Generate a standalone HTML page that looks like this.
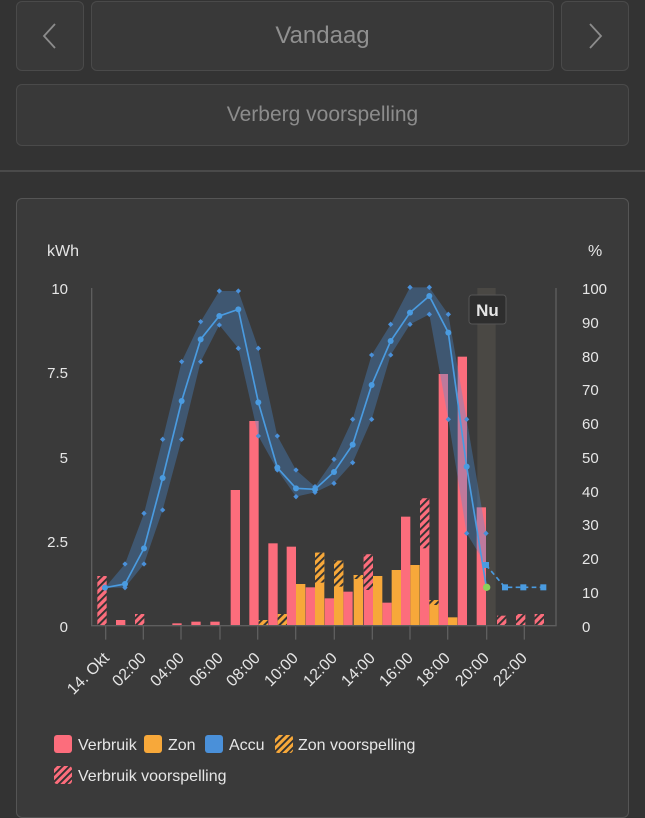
<!DOCTYPE html>
<html><head><meta charset="utf-8"><style>
body{margin:0;width:645px;height:800px;background:#333333;font-family:"Liberation Sans",sans-serif;overflow:hidden;position:relative}
.b{position:absolute;background:#393939;border:1.5px solid #4a4a4a;border-radius:6px;box-sizing:border-box;color:#8c8c8c;display:flex;align-items:center;justify-content:center}
</style></head><body>
<div class="b" style="left:16px;top:1px;width:68px;height:70px;font-size:30px">
<svg width="20" height="30"><polyline points="15,3 4,15 15,27" fill="none" stroke="#8c8c8c" stroke-width="1.8"/></svg></div>
<div class="b" style="left:91px;top:1px;width:463px;height:70px;font-size:24px;color:#909090">Vandaag</div>
<div class="b" style="left:561px;top:1px;width:68px;height:70px">
<svg width="20" height="30"><polyline points="5,3 16,15 5,27" fill="none" stroke="#8c8c8c" stroke-width="1.8"/></svg></div>
<div class="b" style="left:16px;top:84px;width:613px;height:62px;font-size:21px">Verberg voorspelling</div>
<div style="position:absolute;left:0;top:170px;width:645px;height:1.5px;background:#4a4a4a"></div>
<div style="position:absolute;left:16px;top:198px;width:613px;height:620px;background:#3a3a3a;border:1.5px solid #555;border-radius:6px;box-sizing:border-box"></div>
<svg width="645" height="800" style="position:absolute;left:0;top:0" font-family="Liberation Sans, sans-serif">
<defs>
<pattern id="hp" patternUnits="userSpaceOnUse" width="16" height="16" patternTransform="rotate(45)"><rect width="16" height="16" fill="#fc6d7c"/><rect width="6" height="16" fill="#333"/></pattern>
<pattern id="ho" patternUnits="userSpaceOnUse" width="16" height="16" patternTransform="rotate(45)"><rect width="16" height="16" fill="#f7a83a"/><rect width="6" height="16" fill="#333"/></pattern>
<pattern id="hpl" patternUnits="userSpaceOnUse" width="5" height="5" patternTransform="rotate(45)"><rect width="5" height="5" fill="#fc6d7c"/><rect width="2" height="5" fill="#333"/></pattern>
<pattern id="hol" patternUnits="userSpaceOnUse" width="5" height="5" patternTransform="rotate(45)"><rect width="5" height="5" fill="#f7a83a"/><rect width="2" height="5" fill="#333"/></pattern>
</defs>
<g fill="#e6e6e6" font-size="16">
<text x="47" y="256">kWh</text><text x="588" y="256">%</text>
</g>
<g fill="#e6e6e6" font-size="15" text-anchor="end">
<text x="68" y="294">10</text><text x="68" y="378">7.5</text><text x="68" y="463">5</text><text x="68" y="547">2.5</text><text x="68" y="632">0</text>
</g>
<g fill="#e6e6e6" font-size="15">
<text x="582" y="294">100</text><text x="582" y="328">90</text><text x="582" y="362">80</text><text x="582" y="395">70</text><text x="582" y="429">60</text><text x="582" y="463">50</text><text x="582" y="497">40</text><text x="582" y="530">30</text><text x="582" y="564">20</text><text x="582" y="598">10</text><text x="582" y="632">0</text>
</g>
<g transform="translate(80 280) scale(0.33333)">
<rect x="1192" y="24" width="55" height="1011" fill="#4a4844"/>
<g fill="#fc6d7c">
<rect x="52" y="888" width="28" height="147" fill="url(#hp)"/>
<rect x="108" y="1020" width="28" height="15"/>
<rect x="165" y="1002" width="28" height="33" fill="url(#hp)"/>
<rect x="277" y="1030" width="28" height="5"/>
<rect x="334" y="1025" width="28" height="10"/>
<rect x="391" y="1025" width="28" height="10"/>
<rect x="452" y="630" width="28" height="405"/>
<rect x="508" y="423" width="28" height="612"/>
<rect x="565" y="790" width="28" height="245"/>
<rect x="620" y="800" width="28" height="235"/>
<rect x="677" y="922" width="28" height="113"/>
<rect x="734" y="955" width="28" height="80"/>
<rect x="790" y="935" width="28" height="100"/>
<rect x="851" y="823" width="28" height="212"/>
<rect x="851" y="823" width="28" height="107" fill="url(#hp)"/>
<rect x="907" y="968" width="28" height="67"/>
<rect x="963" y="710" width="28" height="325"/>
<rect x="1020" y="655" width="28" height="380"/>
<rect x="1020" y="655" width="28" height="150" fill="url(#hp)"/>
<rect x="1076" y="282" width="28" height="753"/>
<rect x="1133" y="230" width="28" height="805"/>
<rect x="1190" y="682" width="28" height="353"/>
<rect x="1251" y="1007" width="28" height="28" fill="url(#hp)"/>
<rect x="1308" y="1002" width="28" height="33" fill="url(#hp)"/>
<rect x="1364" y="1002" width="28" height="33" fill="url(#hp)"/>
</g>
<g fill="#f7a83a">
<rect x="536" y="1020" width="28" height="15" fill="url(#ho)"/>
<rect x="593" y="1002" width="28" height="33" fill="url(#ho)"/>
<rect x="648" y="912" width="28" height="123"/>
<rect x="705" y="818" width="28" height="217"/>
<rect x="705" y="818" width="28" height="90" fill="url(#ho)"/>
<rect x="762" y="842" width="28" height="193"/>
<rect x="762" y="842" width="28" height="78" fill="url(#ho)"/>
<rect x="821" y="885" width="28" height="150"/>
<rect x="821" y="885" width="28" height="12" fill="url(#ho)"/>
<rect x="879" y="888" width="28" height="147"/>
<rect x="935" y="870" width="28" height="165"/>
<rect x="991" y="855" width="28" height="180"/>
<rect x="1048" y="960" width="28" height="75"/>
<rect x="1048" y="960" width="28" height="15" fill="url(#ho)"/>
<rect x="1104" y="1012" width="28" height="23"/>
</g>
<polygon fill="#4a90d9" fill-opacity="0.35" points="75,923 135,852 192,700 248,478 305,245 362,125 418,33 475,33 535,205 592,468 648,570 705,620 762,538 818,418 875,225 932,133 990,22 1048,22 1105,103 1160,418 1218,760 1218,855 1160,760 1105,418 1048,103 990,133 932,225 875,418 818,548 762,610 705,637 648,650 592,570 535,468 475,205 418,135 362,245 305,478 248,690 192,852 135,923"/>
<g fill="#4a90d9">
<path d="M0,-8 L8,0 L0,8 L-8,0Z" transform="translate(135 852)"/>
<path d="M0,-8 L8,0 L0,8 L-8,0Z" transform="translate(192 700)"/><path d="M0,-8 L8,0 L0,8 L-8,0Z" transform="translate(248 478)"/><path d="M0,-8 L8,0 L0,8 L-8,0Z" transform="translate(305 245)"/><path d="M0,-8 L8,0 L0,8 L-8,0Z" transform="translate(362 125)"/><path d="M0,-8 L8,0 L0,8 L-8,0Z" transform="translate(418 33)"/><path d="M0,-8 L8,0 L0,8 L-8,0Z" transform="translate(475 33)"/><path d="M0,-8 L8,0 L0,8 L-8,0Z" transform="translate(535 205)"/><path d="M0,-8 L8,0 L0,8 L-8,0Z" transform="translate(592 468)"/><path d="M0,-8 L8,0 L0,8 L-8,0Z" transform="translate(648 570)"/><path d="M0,-8 L8,0 L0,8 L-8,0Z" transform="translate(705 620)"/><path d="M0,-8 L8,0 L0,8 L-8,0Z" transform="translate(762 538)"/><path d="M0,-8 L8,0 L0,8 L-8,0Z" transform="translate(818 418)"/><path d="M0,-8 L8,0 L0,8 L-8,0Z" transform="translate(875 225)"/><path d="M0,-8 L8,0 L0,8 L-8,0Z" transform="translate(932 133)"/><path d="M0,-8 L8,0 L0,8 L-8,0Z" transform="translate(990 22)"/><path d="M0,-8 L8,0 L0,8 L-8,0Z" transform="translate(1048 22)"/><path d="M0,-8 L8,0 L0,8 L-8,0Z" transform="translate(1105 103)"/><path d="M0,-8 L8,0 L0,8 L-8,0Z" transform="translate(1160 418)"/><path d="M0,-8 L8,0 L0,8 L-8,0Z" transform="translate(1218 760)"/>
<path d="M0,-8 L8,0 L0,8 L-8,0Z" transform="translate(135 923)"/><path d="M0,-8 L8,0 L0,8 L-8,0Z" transform="translate(192 852)"/><path d="M0,-8 L8,0 L0,8 L-8,0Z" transform="translate(248 690)"/><path d="M0,-8 L8,0 L0,8 L-8,0Z" transform="translate(305 478)"/><path d="M0,-8 L8,0 L0,8 L-8,0Z" transform="translate(362 245)"/><path d="M0,-8 L8,0 L0,8 L-8,0Z" transform="translate(418 135)"/><path d="M0,-8 L8,0 L0,8 L-8,0Z" transform="translate(475 205)"/><path d="M0,-8 L8,0 L0,8 L-8,0Z" transform="translate(535 468)"/><path d="M0,-8 L8,0 L0,8 L-8,0Z" transform="translate(592 570)"/><path d="M0,-8 L8,0 L0,8 L-8,0Z" transform="translate(648 650)"/><path d="M0,-8 L8,0 L0,8 L-8,0Z" transform="translate(705 637)"/><path d="M0,-8 L8,0 L0,8 L-8,0Z" transform="translate(762 610)"/><path d="M0,-8 L8,0 L0,8 L-8,0Z" transform="translate(818 548)"/><path d="M0,-8 L8,0 L0,8 L-8,0Z" transform="translate(875 418)"/><path d="M0,-8 L8,0 L0,8 L-8,0Z" transform="translate(932 225)"/><path d="M0,-8 L8,0 L0,8 L-8,0Z" transform="translate(990 133)"/><path d="M0,-8 L8,0 L0,8 L-8,0Z" transform="translate(1048 103)"/><path d="M0,-8 L8,0 L0,8 L-8,0Z" transform="translate(1105 418)"/><path d="M0,-8 L8,0 L0,8 L-8,0Z" transform="translate(1160 760)"/>
</g>
<polyline fill="none" stroke="#4a9be0" stroke-width="5" points="75,923 135,912 192,805 248,594 305,363 362,178 418,108 475,88 535,367 592,563 648,625 705,628 762,576 818,494 875,315 932,183 990,98 1048,48 1105,158 1160,560 1218,915"/>
<g fill="#4a9be0">
<circle cx="75" cy="923" r="9"/><circle cx="135" cy="912" r="9"/><circle cx="192" cy="805" r="9"/><circle cx="248" cy="594" r="9"/><circle cx="305" cy="363" r="9"/><circle cx="362" cy="178" r="9"/><circle cx="418" cy="108" r="9"/><circle cx="475" cy="88" r="9"/><circle cx="535" cy="367" r="9"/><circle cx="592" cy="563" r="9"/><circle cx="648" cy="625" r="9"/><circle cx="705" cy="628" r="9"/><circle cx="762" cy="576" r="9"/><circle cx="818" cy="494" r="9"/><circle cx="875" cy="315" r="9"/><circle cx="932" cy="183" r="9"/><circle cx="990" cy="98" r="9"/><circle cx="1048" cy="48" r="9"/><circle cx="1105" cy="158" r="9"/><circle cx="1160" cy="560" r="9"/>
</g>
<polyline fill="none" stroke="#4a9be0" stroke-width="5" stroke-dasharray="14 10" points="1218,855 1275,922 1390,922"/>
<g fill="#4a9be0"><rect x="1209" y="846" width="18" height="18"/><rect x="1266" y="913" width="18" height="18"/><rect x="1321" y="913" width="18" height="18"/><rect x="1381" y="913" width="18" height="18"/></g>
<circle cx="1220" cy="922" r="11" fill="#8bd05a"/>
<g stroke="#5e5e5e" stroke-width="4" fill="none">
<line x1="35" y1="24" x2="35" y2="1037"/><line x1="1428" y1="24" x2="1428" y2="1037"/><line x1="33" y1="1037" x2="1430" y2="1037"/>
<path d="M77 1037v42M190 1037v42M303 1037v42M420 1037v42M533 1037v42M647 1037v42M763 1037v42M877 1037v42M990 1037v42M1103 1037v42M1220 1037v42M1333 1037v42"/>
</g>
</g>
<rect x="469" y="295" width="37" height="29" rx="3" fill="#2e2e2e" stroke="#555" stroke-width="1"/>
<text x="487.5" y="316" font-size="17" font-weight="bold" fill="#e6e6e6" text-anchor="middle">Nu</text>
<g fill="#e6e6e6" font-size="16" text-anchor="end">
<text transform="translate(110 659) rotate(-45)">14. Okt</text>
<text transform="translate(147 659) rotate(-45)">02:00</text>
<text transform="translate(185 659) rotate(-45)">04:00</text>
<text transform="translate(224 659) rotate(-45)">06:00</text>
<text transform="translate(261 659) rotate(-45)">08:00</text>
<text transform="translate(299 659) rotate(-45)">10:00</text>
<text transform="translate(338 659) rotate(-45)">12:00</text>
<text transform="translate(376 659) rotate(-45)">14:00</text>
<text transform="translate(414 659) rotate(-45)">16:00</text>
<text transform="translate(451 659) rotate(-45)">18:00</text>
<text transform="translate(490 659) rotate(-45)">20:00</text>
<text transform="translate(528 659) rotate(-45)">22:00</text>
</g>
<g font-size="16" fill="#e6e6e6">
<rect x="54" y="735" width="18" height="18" rx="3" fill="#fc6d7c"/><text x="78" y="750">Verbruik</text>
<rect x="144" y="735" width="18" height="18" rx="3" fill="#f7a83a"/><text x="168" y="750">Zon</text>
<rect x="205" y="735" width="18" height="18" rx="3" fill="#4a90d9"/><text x="229" y="750">Accu</text>
<rect x="275" y="735" width="18" height="18" rx="3" fill="url(#hol)"/><text x="298" y="750">Zon voorspelling</text>
<rect x="54" y="766" width="18" height="18" rx="3" fill="url(#hpl)"/><text x="78" y="781">Verbruik voorspelling</text>
</g>
</svg>
</body></html>
